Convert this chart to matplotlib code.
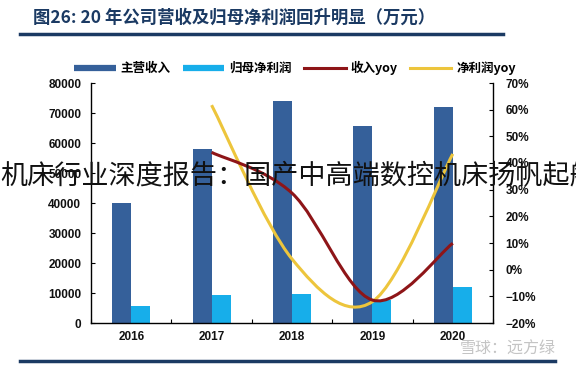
import matplotlib
matplotlib.use("Agg")
import matplotlib.pyplot as plt
from matplotlib.path import Path
from matplotlib.patches import PathPatch
from matplotlib.lines import Line2D
import numpy as np

plt.rcParams['font.family'] = ['Liberation Sans', 'Noto Sans CJK SC', 'DejaVu Sans']

years = ['2016', '2017', '2018', '2019', '2020']
revenue = [40000, 58000, 74000, 65800, 72000]
net_profit = [5700, 9300, 9600, 7700, 12100]
rev_yoy_years = ['2017', '2018', '2019', '2020']
rev_yoy = [44.0, 28.7, -11.4, 9.9]
profit_yoy = [61.7, 4.0, -12.0, 43.4]

title = '图26: 20 年公司营收及归母净利润回升明显（万元）'
legend_labels = ['主营收入', '归母净利润', '收入yoy', '净利润yoy']
watermark = '机床行业深度报告：国产中高端数控机床扬帆起航'
source_mark = '雪球：远方绿'

c_rev = '#35609A'
c_np = '#17AEEA'
c_ry = '#8E1518'
c_py = '#EDC53C'
navy = '#1B3A63'

fig = plt.figure(figsize=(5.76, 3.70), dpi=100)
ax = fig.add_axes([91/576, 1-323/370, (493-91)/576, (323-83)/370])
ax2 = ax.twinx()

x = np.arange(len(years))
w = 0.237
ax.bar(x - w/2, revenue, w, color=c_rev, zorder=2)
ax.bar(x + w/2, net_profit, w, color=c_np, zorder=2)
ax.set_xlim(-0.5, len(years) - 0.5)
ax.set_ylim(0, 80000)
ax.set_yticks(np.arange(0, 80001, 10000))
ax.set_xticks(x)
ax.set_xticklabels(years)
ax.set_xticks(np.arange(-0.5, len(years), 1.0), minor=True)
ax.tick_params(axis='x', which='major', length=0, pad=6)
ax.tick_params(axis='x', which='minor', direction='in', length=3, width=0.8)
ax.tick_params(axis='y', direction='in', length=3, width=0.8, pad=7)
for s in ['top', 'right']:
    ax.spines[s].set_visible(False)
ax.spines['left'].set_linewidth(1.0)
ax.spines['bottom'].set_linewidth(1.0)

ax2.set_ylim(-20, 70)
ax2.set_yticks(np.arange(-20, 71, 10))
ax2.set_yticklabels([f'{v}%' if v >= 0 else f'−{-v}%' for v in range(-20, 71, 10)])
ax2.tick_params(axis='y', direction='in', length=3, width=0.8, pad=9)
for s in ['top', 'left', 'bottom']:
    ax2.spines[s].set_visible(False)
ax2.spines['right'].set_linewidth(1.0)

for a in (ax, ax2):
    for lab in a.get_xticklabels() + a.get_yticklabels():
        lab.set_fontweight('bold')
        lab.set_fontsize(8.5)
        lab.set_color('#111111')


def smooth_path(xs, ys):
    pts = list(zip(xs, ys))
    n = len(pts)
    verts = [pts[0]]
    codes = [Path.MOVETO]
    for i in range(n - 1):
        p0 = pts[i - 1] if i > 0 else pts[i]
        p1 = pts[i]
        p2 = pts[i + 1]
        p3 = pts[i + 2] if i + 2 < n else pts[i + 1]
        c1 = (p1[0] + (p2[0] - p0[0]) / 6, p1[1] + (p2[1] - p0[1]) / 6)
        c2 = (p2[0] - (p3[0] - p1[0]) / 6, p2[1] - (p3[1] - p1[1]) / 6)
        verts += [c1, c2, p2]
        codes += [Path.CURVE4] * 3
    return Path(verts, codes)


xy = [years.index(y) for y in rev_yoy_years]
ax2.add_patch(PathPatch(smooth_path(xy, profit_yoy), fill=False, ec=c_py, lw=2.2, zorder=3, capstyle='butt'))
ax2.add_patch(PathPatch(smooth_path(xy, rev_yoy), fill=False, ec=c_ry, lw=2.2, zorder=4, capstyle='butt'))

handles = [Line2D([], [], color=c_rev, lw=4.5, solid_capstyle='butt'),
           Line2D([], [], color=c_np, lw=4.5, solid_capstyle='butt'),
           Line2D([], [], color=c_ry, lw=2.2),
           Line2D([], [], color=c_py, lw=2.2)]
fig.legend(handles, legend_labels, loc='center', bbox_to_anchor=(295/576, 1 - 68/370), ncol=4,
           frameon=False, handlelength=3.3, columnspacing=1.0, handletextpad=0.4,
           prop={'family': ['Noto Sans CJK SC', 'DejaVu Sans'], 'weight': 'bold', 'size': 9})

fig.text(33/576, 1 - 18/370, title, fontsize=12.5, fontweight='bold', color=navy,
         va='center', ha='left', family=['Noto Sans CJK SC', 'DejaVu Sans'])
fig.add_artist(Line2D([20/576, 503/576], [1 - 34/370, 1 - 34/370], color=navy, lw=2.5))
fig.add_artist(Line2D([20/576, 555/576], [1 - 361/370, 1 - 361/370], color=navy, lw=2.5))

fig.text(0, 1 - 176/370, watermark, fontsize=19.5, fontweight='light', color='#111111',
         va='center', ha='left', family=['Noto Sans CJK SC', 'DejaVu Sans'], zorder=10)
fig.text(556/576, 1 - 349/370, source_mark, fontsize=11.5, color='#C4C4C4', va='center', ha='right',
         family=['Noto Sans CJK SC', 'DejaVu Sans'], zorder=10)

fig.savefig('out.png', dpi=100)
